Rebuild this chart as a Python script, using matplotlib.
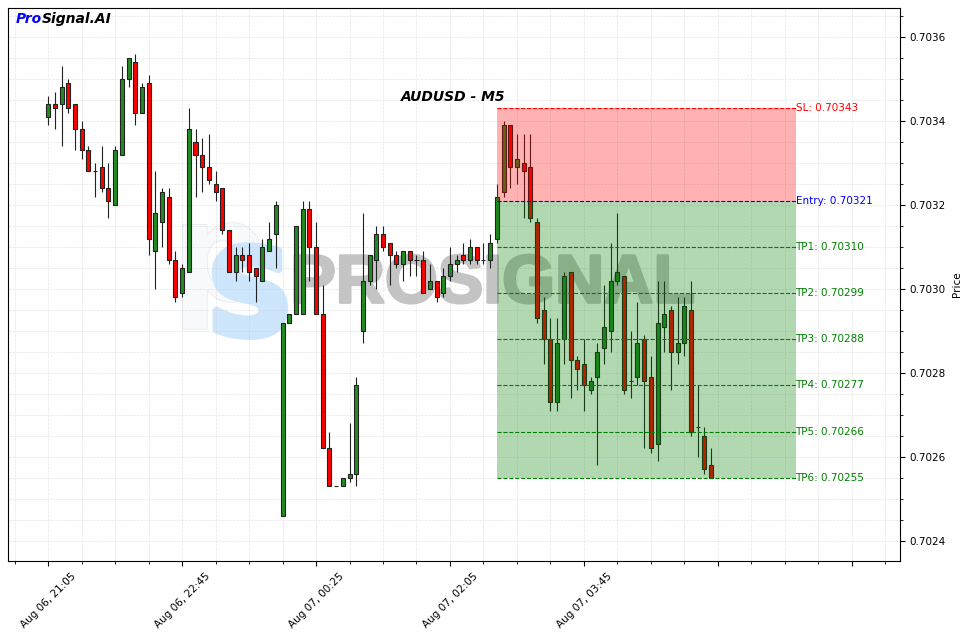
import matplotlib
matplotlib.use("Agg")
import matplotlib.pyplot as plt
import matplotlib.ticker as mticker
import matplotlib.patheffects as pe
import numpy as np
from datetime import datetime, timedelta

# ---------------- data ----------------
symbol = "AUDUSD"
timeframe = "M5"
start_time = datetime(2024, 8, 6, 21, 5)

opens = [0.70341, 0.70344, 0.70344, 0.70349, 0.70344, 0.70338, 0.70333, 0.70328, 0.70329, 0.70324,
         0.70320, 0.70332, 0.70350, 0.70354, 0.70342, 0.70349, 0.70309, 0.70316, 0.70322, 0.70307,
         0.70299, 0.70304, 0.70335, 0.70332, 0.70329, 0.70325, 0.70324, 0.70314, 0.70304, 0.70308,
         0.70308, 0.70305, 0.70302, 0.70309, 0.70313, 0.70246, 0.70292, 0.70294, 0.70294, 0.70319,
         0.70310, 0.70294, 0.70262, 0.70253, 0.70253, 0.70255, 0.70256, 0.70290, 0.70302, 0.70307,
         0.70313, 0.70311, 0.70308, 0.70306, 0.70309, 0.70307, 0.70307, 0.70300, 0.70302, 0.70299,
         0.70303, 0.70306, 0.70308, 0.70307, 0.70310, 0.70307, 0.70307, 0.70312, 0.70323, 0.70339,
         0.70329, 0.70330, 0.70329, 0.70316, 0.70295, 0.70288, 0.70273, 0.70288, 0.70304, 0.70283,
         0.70282, 0.70276, 0.70279, 0.70286, 0.70290, 0.70302, 0.70303, 0.70278, 0.70279, 0.70288,
         0.70279, 0.70263, 0.70291, 0.70295, 0.70285, 0.70287, 0.70295, 0.70267, 0.70265, 0.70258]
highs = [0.70346, 0.70347, 0.70353, 0.70350, 0.70344, 0.70340, 0.70334, 0.70330, 0.70334, 0.70330,
         0.70334, 0.70353, 0.70355, 0.70356, 0.70349, 0.70351, 0.70328, 0.70324, 0.70324, 0.70309,
         0.70306, 0.70343, 0.70338, 0.70336, 0.70337, 0.70328, 0.70324, 0.70314, 0.70310, 0.70310,
         0.70311, 0.70305, 0.70312, 0.70316, 0.70321, 0.70292, 0.70294, 0.70315, 0.70321, 0.70321,
         0.70316, 0.70301, 0.70266, 0.70253, 0.70255, 0.70268, 0.70279, 0.70318, 0.70308, 0.70315,
         0.70315, 0.70311, 0.70309, 0.70309, 0.70309, 0.70308, 0.70309, 0.70306, 0.70302, 0.70305,
         0.70310, 0.70308, 0.70311, 0.70312, 0.70310, 0.70311, 0.70313, 0.70325, 0.70340, 0.70339,
         0.70337, 0.70337, 0.70337, 0.70317, 0.70298, 0.70293, 0.70293, 0.70304, 0.70304, 0.70284,
         0.70288, 0.70279, 0.70287, 0.70301, 0.70311, 0.70318, 0.70303, 0.70290, 0.70297, 0.70289,
         0.70284, 0.70302, 0.70302, 0.70296, 0.70298, 0.70298, 0.70302, 0.70277, 0.70267, 0.70262]
lows = [0.70339, 0.70338, 0.70334, 0.70342, 0.70333, 0.70331, 0.70328, 0.70322, 0.70323, 0.70317,
        0.70320, 0.70332, 0.70348, 0.70339, 0.70342, 0.70308, 0.70300, 0.70310, 0.70306, 0.70297,
        0.70298, 0.70304, 0.70322, 0.70323, 0.70325, 0.70321, 0.70313, 0.70304, 0.70302, 0.70304,
        0.70302, 0.70297, 0.70302, 0.70309, 0.70305, 0.70246, 0.70292, 0.70294, 0.70294, 0.70302,
        0.70294, 0.70262, 0.70253, 0.70253, 0.70253, 0.70254, 0.70253, 0.70287, 0.70301, 0.70300,
        0.70309, 0.70301, 0.70305, 0.70302, 0.70303, 0.70303, 0.70299, 0.70300, 0.70297, 0.70298,
        0.70302, 0.70304, 0.70306, 0.70306, 0.70306, 0.70306, 0.70305, 0.70311, 0.70322, 0.70324,
        0.70325, 0.70317, 0.70316, 0.70292, 0.70282, 0.70271, 0.70271, 0.70282, 0.70274, 0.70276,
        0.70271, 0.70275, 0.70258, 0.70282, 0.70285, 0.70301, 0.70275, 0.70274, 0.70277, 0.70262,
        0.70261, 0.70259, 0.70285, 0.70276, 0.70282, 0.70284, 0.70265, 0.70260, 0.70256, 0.70255]
closes = [0.70344, 0.70343, 0.70348, 0.70343, 0.70338, 0.70333, 0.70328, 0.70328, 0.70324, 0.70321,
          0.70333, 0.70350, 0.70355, 0.70342, 0.70348, 0.70312, 0.70318, 0.70323, 0.70307, 0.70298,
          0.70305, 0.70338, 0.70332, 0.70329, 0.70326, 0.70323, 0.70314, 0.70304, 0.70308, 0.70307,
          0.70304, 0.70303, 0.70310, 0.70312, 0.70320, 0.70292, 0.70294, 0.70315, 0.70319, 0.70310,
          0.70294, 0.70262, 0.70253, 0.70253, 0.70255, 0.70256, 0.70277, 0.70302, 0.70308, 0.70313,
          0.70310, 0.70308, 0.70306, 0.70309, 0.70307, 0.70307, 0.70299, 0.70302, 0.70298, 0.70303,
          0.70306, 0.70307, 0.70307, 0.70310, 0.70307, 0.70307, 0.70311, 0.70322, 0.70339, 0.70329,
          0.70331, 0.70328, 0.70317, 0.70293, 0.70288, 0.70273, 0.70287, 0.70303, 0.70283, 0.70281,
          0.70277, 0.70278, 0.70285, 0.70291, 0.70302, 0.70304, 0.70276, 0.70278, 0.70287, 0.70278,
          0.70262, 0.70292, 0.70294, 0.70285, 0.70287, 0.70296, 0.70266, 0.70267, 0.70257, 0.70255]

entry_index = 67
zone_end_index = 111.6
sl_price = 0.70343
entry_price = 0.70321
tp_prices = [0.70310, 0.70299, 0.70288, 0.70277, 0.70266, 0.70255]
tp_names = ["TP1", "TP2", "TP3", "TP4", "TP5", "TP6"]

# ---------------- plot ----------------
n = len(opens)
x = np.arange(n)
times = [start_time + timedelta(minutes=5 * i) for i in range(n)]

fig = plt.figure(figsize=(9.63, 6.32), dpi=100)
ax = fig.add_axes([8 / 963, 1 - 561 / 632, 892 / 963, 553 / 632])

up_color = "forestgreen"
down_color = "red"

o = np.array(opens); h = np.array(highs); l = np.array(lows); c = np.array(closes)
colors = [up_color if cc >= oo else down_color for oo, cc in zip(o, c)]
ax.vlines(x, l, h, color="#222222", linewidth=0.8, zorder=2)
bottoms = np.minimum(o, c)
heights = np.abs(c - o)
ax.bar(x, heights, bottom=bottoms, width=0.6, color=colors, edgecolor="#222222",
       linewidth=0.8, zorder=3)

# watermark (logo)
ax.text(0.183, 0.472, "p", transform=ax.transAxes, fontsize=99, fontweight="bold",
        color="#f8f9fb", ha="left", va="baseline", zorder=0,
        path_effects=[pe.withStroke(linewidth=1.2, foreground="#e8ebf0")])
ax.text(0.2713, 0.469, "S", transform=ax.transAxes, fontsize=85, fontweight="bold",
        color="#cde6fb", ha="center", va="center", zorder=0,
        path_effects=[pe.withStroke(linewidth=6, foreground="#cde6fb")])
ax.text(0.543, 0.5, "PROSIGNAL", transform=ax.transAxes, fontsize=49, fontweight="bold",
        family="Liberation Sans", color="#c4c4c4", ha="center", va="center", zorder=1,
        path_effects=[pe.withStroke(linewidth=2, foreground="#c4c4c4")])

# zones
ax.fill_between([entry_index, zone_end_index], entry_price, sl_price, color="red",
                alpha=0.3, linewidth=0, zorder=4)
ax.fill_between([entry_index, zone_end_index], tp_prices[-1], entry_price, color="green",
                alpha=0.3, linewidth=0, zorder=4)

ax.hlines(sl_price, entry_index, zone_end_index, colors="red", linestyles="--", linewidth=0.8, zorder=5)
ax.text(zone_end_index, sl_price, f"SL: {sl_price:.5f}", color="red", fontsize=7.5,
        ha="left", va="center", zorder=6)
ax.hlines(entry_price, entry_index, zone_end_index, colors="blue", linestyles="--", linewidth=0.8, zorder=5)
ax.text(zone_end_index, entry_price, f"Entry: {entry_price:.5f}", color="blue", fontsize=7.5,
        ha="left", va="center", zorder=6)
for name, tp in zip(tp_names, tp_prices):
    ax.hlines(tp, entry_index, zone_end_index, colors="green", linestyles="--", linewidth=0.8, zorder=5)
    ax.text(zone_end_index, tp, f"{name}: {tp:.5f}", color="green", fontsize=7.5,
            ha="left", va="center", zorder=6)

# axes setup
ax.set_xlim(-6, 127.2)
ax.set_ylim(0.702352, 0.703669)
ax.yaxis.tick_right()
ax.yaxis.set_label_position("right")
ax.set_ylabel("Price", fontsize=7.5)
ax.yaxis.set_major_locator(mticker.MultipleLocator(0.0002))
ax.yaxis.set_minor_locator(mticker.MultipleLocator(0.00005))
ax.yaxis.set_major_formatter(mticker.FormatStrFormatter("%.4f"))

ax.xaxis.set_major_locator(mticker.MultipleLocator(20))
ax.xaxis.set_minor_locator(mticker.MultipleLocator(5))

def fmt_x(v, pos):
    i = int(round(v))
    if 0 <= i < n:
        return times[i].strftime("%b %d, %H:%M")
    return ""

ax.xaxis.set_major_formatter(mticker.FuncFormatter(fmt_x))
ax.tick_params(axis="both", which="major", labelsize=7.5)
plt.setp(ax.get_xticklabels(), rotation=45)

ax.grid(True, which="both", linestyle="--", color="#cccccc", linewidth=0.5, alpha=0.5)
ax.set_axisbelow(True)

# title & brand
ax.text(0.499, 0.839, f"{symbol} - {timeframe}", transform=ax.transAxes, fontsize=10,
        fontweight="bold", fontstyle="italic", ha="center", va="center", zorder=7)
t_pro = ax.text(0.009, 0.98, "Pro", transform=ax.transAxes, fontsize=10, fontweight="bold",
                fontstyle="italic", color="blue", ha="left", va="center", zorder=7)
ax.annotate("Signal.AI", xy=(1, 0), xycoords=t_pro, fontsize=10, fontweight="bold",
            fontstyle="italic", color="black", ha="left", va="bottom", zorder=7)

fig.savefig("out.png", dpi=100)
